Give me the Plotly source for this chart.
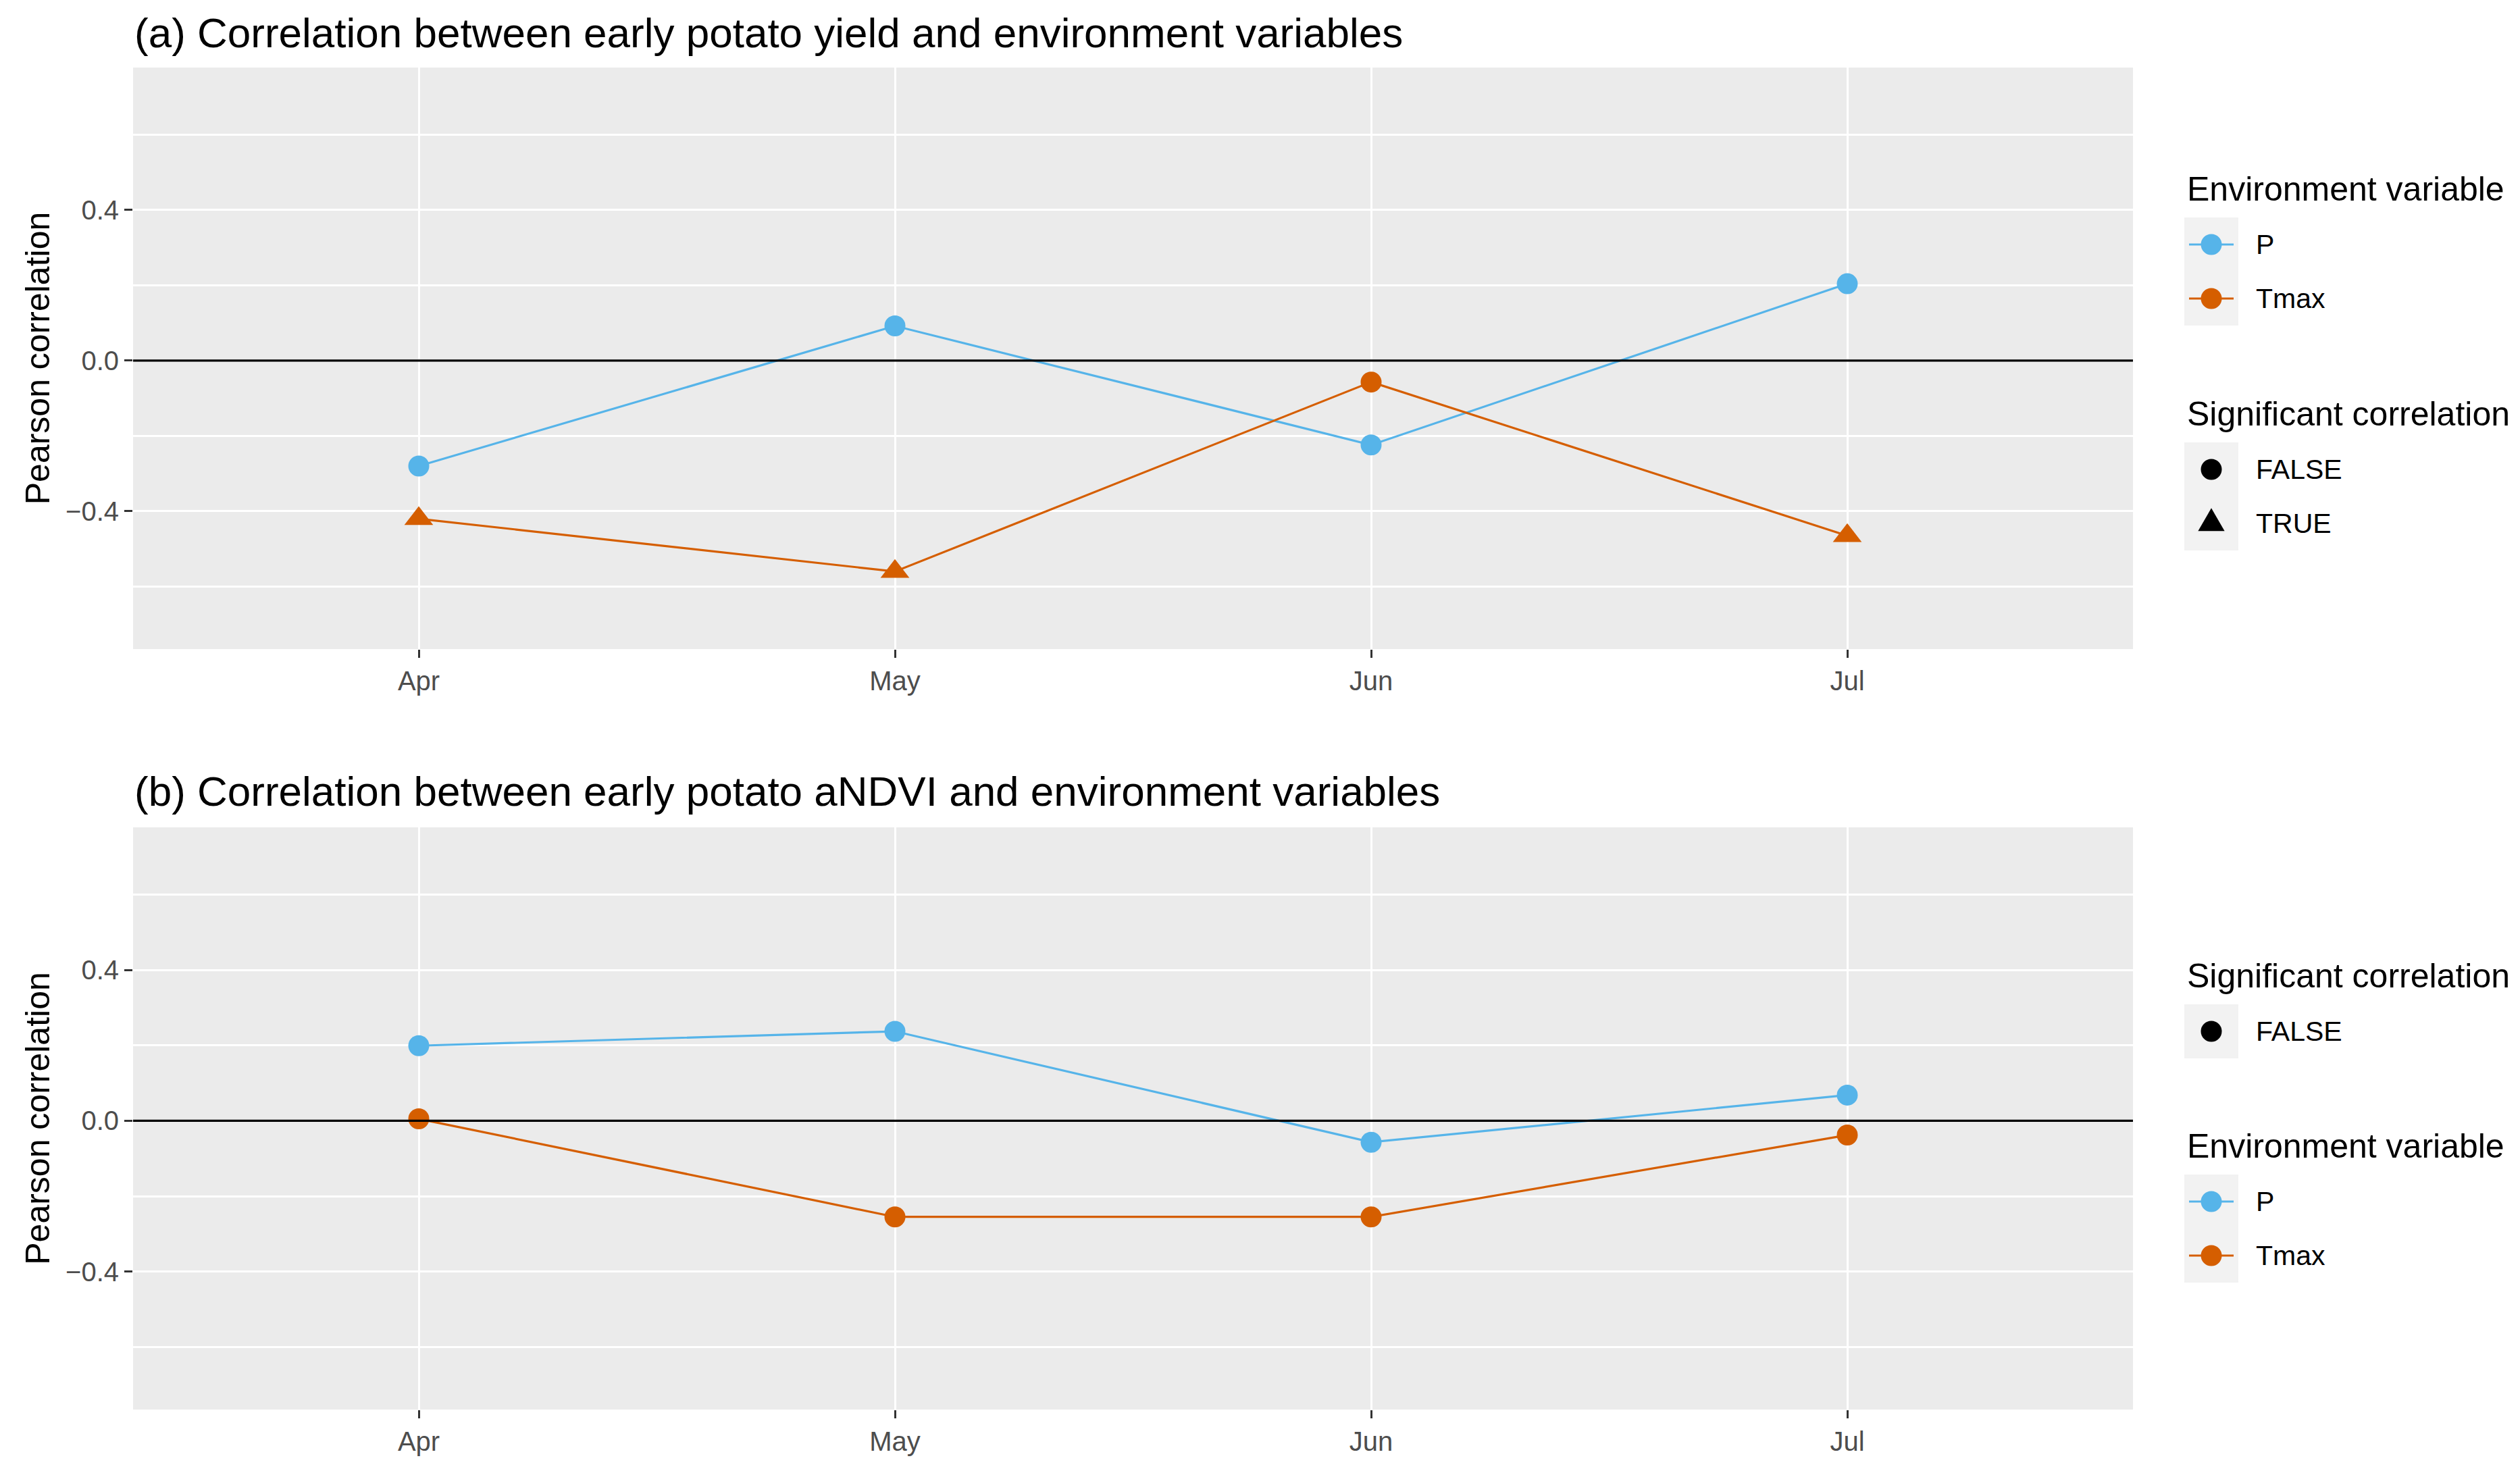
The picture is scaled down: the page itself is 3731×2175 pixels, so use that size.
import plotly.graph_objects as go

# ---------------- data ----------------
months = ["Apr", "May", "Jun", "Jul"]
variables = ["P", "Tmax"]
var_colors = {"P": "#56B4E9", "Tmax": "#D55E00"}

yield_P = [-0.28, 0.092, -0.224, 0.204]
yield_Tmax = [-0.42, -0.56, -0.057, -0.465]
yield_P_sig = [False, False, False, False]
yield_Tmax_sig = [True, True, False, True]

ndvi_P = [0.199, 0.237, -0.057, 0.068]
ndvi_Tmax = [0.005, -0.255, -0.255, -0.038]
ndvi_P_sig = [False, False, False, False]
ndvi_Tmax_sig = [False, False, False, False]

titles = ["(a) Correlation between early potato yield and environment variables",
          "(b) Correlation between early potato aNDVI and environment variables"]
y_title = "Pearson correlation"
y_ticks = [-0.4, 0.0, 0.4]
y_minor = [-0.6, -0.2, 0.2, 0.6]

# ---------------- layout geometry (pixels) ----------------
W, H = 3731, 2175
L, R, T, B = 197, 573, 100, 88
PW, PH = W - L - R, H - T - B
def px(x):
    return (x - L) / PW
def py(y):
    return (H - B - y) / PH

FONT = "Liberation Sans, Arial, sans-serif"
BG = "#EBEBEB"
GRID = "#FFFFFF"

sym = {False: "circle", True: "triangle-up"}
msize = {False: 31, True: 37}

fig = go.Figure()

panels = [
    ("x", "y", {"P": (yield_P, yield_P_sig), "Tmax": (yield_Tmax, yield_Tmax_sig)}),
    ("x2", "y2", {"P": (ndvi_P, ndvi_P_sig), "Tmax": (ndvi_Tmax, ndvi_Tmax_sig)}),
]
for xa, ya, series in panels:
    for v in variables:
        vals, sig = series[v]
        fig.add_trace(go.Scatter(
            x=months, y=vals, xaxis=xa, yaxis=ya, mode="lines+markers",
            name=v, showlegend=False, opacity=1,
            line=dict(color=var_colors[v], width=3.2),
            marker=dict(color=var_colors[v], symbol=[sym[s] for s in sig], opacity=1,
                        size=[msize[s] for s in sig], line=dict(width=0)),
        ))

axis_common = dict(
    type="category", categoryorder="array", categoryarray=months,
    range=[-0.6, 3.6], showgrid=True, gridcolor=GRID, gridwidth=2.7,
    zeroline=False, showline=False, ticks="outside", ticklen=12,
    tickwidth=2.5, tickcolor="#333333",
    tickfont=dict(family=FONT, size=40, color="#4D4D4D"),
)
yaxis_common = dict(
    range=[-0.766, 0.778], tickvals=y_ticks, tickformat=".1f",
    showgrid=True, gridcolor=GRID, gridwidth=2.7, zeroline=False, showline=False,
    ticks="outside", ticklen=12, tickwidth=2.5, tickcolor="#333333",
    tickfont=dict(family=FONT, size=40, color="#4D4D4D"),
    minor=dict(tickvals=y_minor, showgrid=True, gridcolor=GRID, gridwidth=2.5, ticks=""),
    title=dict(text=y_title, font=dict(family=FONT, size=50, color="black"), standoff=7),
)

dom_a = [py(961), 1.0]
dom_b = [0.0, py(1225)]

fig.update_layout(
    width=W, height=H,
    margin=dict(l=L, r=R, t=T, b=B, autoexpand=False),
    paper_bgcolor="white", plot_bgcolor=BG,
    font=dict(family=FONT, color="black"),
    showlegend=False,
    xaxis=dict(axis_common, anchor="y", domain=[0, 1]),
    yaxis=dict(yaxis_common, anchor="x", domain=dom_a),
    xaxis2=dict(axis_common, anchor="y2", domain=[0, 1]),
    yaxis2=dict(yaxis_common, anchor="x2", domain=dom_b),
)

shapes = []
annotations = []

# zero reference lines
for xa, ya in [("x", "y"), ("x2", "y2")]:
    shapes.append(dict(type="line", xref=xa + " domain", yref=ya, x0=0, x1=1, y0=0, y1=0,
                       line=dict(color="black", width=3.2), layer="above"))

# panel titles
for t, ypix in zip(titles, [49, 1172]):
    annotations.append(dict(text=t, xref="paper", yref="paper", x=0, y=py(ypix),
                            xanchor="left", yanchor="middle", showarrow=False,
                            font=dict(family=FONT, size=62, color="black")))

# ---------------- manual legends ----------------
KX0, KX1 = 3234, 3314
KCX = (KX0 + KX1) / 2
KEYH = 80
TITLE_X = 3236
LABEL_X = 3338

def legend_title(text, ycen):
    annotations.append(dict(text=text, xref="paper", yref="paper", x=px(TITLE_X), y=py(ycen),
                            xanchor="left", yanchor="middle", showarrow=False,
                            font=dict(family=FONT, size=50, color="black")))

def legend_label(text, ycen):
    annotations.append(dict(text=text, xref="paper", yref="paper", x=px(LABEL_X), y=py(ycen),
                            xanchor="left", yanchor="middle", showarrow=False,
                            font=dict(family=FONT, size=41, color="black")))

def key_box(ytop, n):
    shapes.append(dict(type="rect", xref="paper", yref="paper", x0=px(KX0), x1=px(KX1),
                       y0=py(ytop), y1=py(ytop + n * KEYH), fillcolor="#F2F2F2",
                       line=dict(width=0), layer="below"))

def circle_glyph(ycen, color, d=31):
    r = d / 2
    shapes.append(dict(type="circle", xref="paper", yref="paper", xsizemode="pixel",
                       ysizemode="pixel", xanchor=px(KCX), yanchor=py(ycen),
                       x0=-r, x1=r, y0=-r, y1=r, fillcolor=color, line=dict(width=0)))

def triangle_glyph(ycen, color, h=34):
    top = h * 1.555 / 2.333
    bot = h * 0.778 / 2.333
    hw = h * 1.347 / 2.333
    path = f"M {-hw},{-bot} L {hw},{-bot} L 0,{top} Z"
    shapes.append(dict(type="path", xref="paper", yref="paper", xsizemode="pixel",
                       ysizemode="pixel", xanchor=px(KCX), yanchor=py(ycen),
                       path=path, fillcolor=color, line=dict(width=0)))

def line_glyph(ycen, color):
    shapes.append(dict(type="line", xref="paper", yref="paper", x0=px(3241), x1=px(3307),
                       y0=py(ycen), y1=py(ycen), line=dict(color=color, width=3.2)))

def env_legend(ytitle):
    legend_title("Environment variable", ytitle)
    ytop = ytitle + 42
    key_box(ytop, len(variables))
    for i, v in enumerate(variables):
        yc = ytop + KEYH * (i + 0.5)
        line_glyph(yc, var_colors[v])
        circle_glyph(yc, var_colors[v])
        legend_label(v, yc)

def sig_legend(ytitle, levels):
    legend_title("Significant correlation", ytitle)
    ytop = ytitle + 42
    key_box(ytop, len(levels))
    for i, lv in enumerate(levels):
        yc = ytop + KEYH * (i + 0.5)
        if lv:
            triangle_glyph(yc, "black")
        else:
            circle_glyph(yc, "black")
        legend_label(str(lv).upper(), yc)

def levels_of(*sigs):
    s = set()
    for a in sigs:
        s.update(a)
    return sorted(s)

# panel (a): environment first, then significance
env_legend(280)
sig_legend(613, levels_of(yield_P_sig, yield_Tmax_sig))
# panel (b): significance first, then environment
sig_legend(1445, levels_of(ndvi_P_sig, ndvi_Tmax_sig))
env_legend(1697)

fig.update_layout(shapes=shapes, annotations=annotations)
fig.write_html("out.html", config={"displayModeBar": False},
               post_script="document.body.style.margin='0';document.body.style.padding='0';")
